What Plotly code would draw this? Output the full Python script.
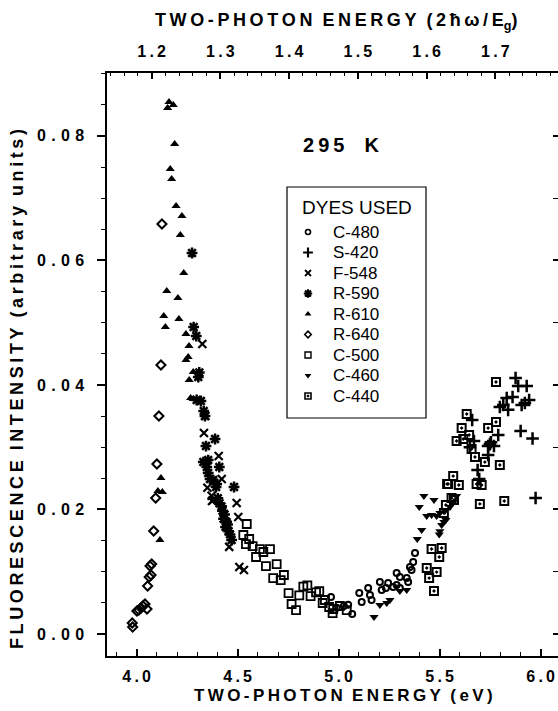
import plotly.graph_objects as go

# ---------------- data ----------------
c480_e = [4.962, 5.067, 5.102, 5.146, 5.114, 5.155, 5.163, 5.204, 5.213, 5.234, 5.245, 5.270,
          5.303, 5.287, 5.287, 5.303, 5.337, 5.344, 5.353, 5.369, 5.361, 5.378, 5.026, 5.047, 4.990]
c480_i = [0.00594, 0.00321, 0.00658, 0.00739, 0.00514, 0.00626, 0.00546, 0.00835, 0.00707, 0.00739,
          0.00819, 0.00755, 0.00739, 0.00787, 0.0098, 0.00915, 0.00899, 0.00835, 0.01076, 0.01156,
          0.01028, 0.01301, 0.0045, 0.0047, 0.0042]

s420_e = [5.876, 5.889, 5.931, 5.832, 5.861, 5.798, 5.815, 5.839, 5.906, 5.922, 5.943, 5.901,
          5.960, 5.790, 5.754, 5.740, 5.769, 5.740, 5.661, 5.670, 5.650, 5.688, 5.696, 5.975, 5.749]
s420_i = [0.04111, 0.03983, 0.03983, 0.0379, 0.03806, 0.03646, 0.03678, 0.0360, 0.03678, 0.0371,
          0.03758, 0.0326, 0.0314, 0.03196, 0.0308, 0.03019, 0.03019, 0.02875, 0.03437, 0.031,
          0.030, 0.02634, 0.02489, 0.02184, 0.0305]

f548_e = [4.325, 4.340, 4.333, 4.406, 4.421, 4.371, 4.379, 4.495, 4.503, 4.373, 4.458, 4.508,
          4.531, 4.350]
f548_i = [0.04657, 0.03501, 0.03228, 0.02859, 0.02489, 0.0222, 0.02152, 0.02104, 0.01879, 0.02136,
          0.0140, 0.01076, 0.01028, 0.0235]

r590_e = [4.274, 4.282, 4.295, 4.305, 4.310, 4.297, 4.318, 4.332, 4.338, 4.388, 4.343, 4.330,
          4.354, 4.347, 4.409, 4.354, 4.363, 4.379, 4.393, 4.396, 4.482, 4.402, 4.410, 4.420,
          4.425, 4.435, 4.430, 4.445, 4.440, 4.450, 4.455, 4.470, 4.462]
r590_i = [0.06119, 0.0493, 0.04786, 0.04127, 0.0420, 0.03758, 0.03742, 0.03581, 0.03501, 0.03132,
          0.03019, 0.02762, 0.02794, 0.02682, 0.02682, 0.02586, 0.02489, 0.02473, 0.02361, 0.02409,
          0.02361, 0.0218, 0.0210, 0.0205, 0.0198, 0.0192, 0.0185, 0.0180, 0.0172, 0.0176, 0.0165,
          0.0151, 0.0160]

r610_e = [4.160, 4.181, 4.153, 4.188, 4.166, 4.173, 4.195, 4.224, 4.216, 4.233, 4.149, 4.204,
          4.134, 4.209, 4.142, 4.244, 4.259, 4.255, 4.244, 4.280, 4.260, 4.267, 4.280, 4.120,
          4.105, 4.127, 4.115]
r610_i = [0.08544, 0.08496, 0.08448, 0.0787, 0.07468, 0.07307, 0.06874, 0.06713, 0.06408, 0.05798,
          0.05509, 0.05396, 0.05107, 0.05059, 0.0493, 0.04818, 0.04625, 0.04449, 0.0440, 0.04208,
          0.04079, 0.0379, 0.03774, 0.02505, 0.02297, 0.0228, 0.0151]

r640_e = [4.125, 4.120, 4.110, 4.100, 4.094, 4.084, 4.074, 4.066, 4.071, 4.062, 4.054, 4.041,
          4.031, 4.021, 4.011, 4.001, 4.051, 3.978, 3.980]
r640_i = [0.06585, 0.0432, 0.03501, 0.0273, 0.02184, 0.01654, 0.01124, 0.01092, 0.00948, 0.00915,
          0.00771, 0.00482, 0.0045, 0.00418, 0.00385, 0.00369, 0.00402, 0.00177, 0.00112]

c500_e = [4.545, 4.528, 4.557, 4.541, 4.574, 4.610, 4.627, 4.660, 4.591, 4.640, 4.693, 4.676,
          4.713, 4.729, 4.752, 4.767, 4.789, 4.805, 4.825, 4.845, 4.861, 4.888, 4.904, 4.921,
          4.932, 4.953, 4.973, 4.970, 5.006, 5.040]
c500_i = [0.01767, 0.0159, 0.01526, 0.01445, 0.01413, 0.01365, 0.01317, 0.01365, 0.01237, 0.01092,
          0.01124, 0.00899, 0.00867, 0.00948, 0.00658, 0.00482, 0.00385, 0.0062, 0.0076, 0.0078,
          0.0061, 0.0067, 0.0069, 0.00498, 0.00546, 0.00434, 0.00402, 0.00337, 0.0045, 0.00385]

c460_e = [5.175, 5.204, 5.238, 5.254, 5.303, 5.337, 5.389, 5.411, 5.422, 5.472, 5.399, 5.436,
          5.460, 5.485, 5.501, 5.526, 5.551, 5.567, 5.584, 5.501, 5.510, 5.521, 5.531, 5.498]
c460_i = [0.00273, 0.00466, 0.00498, 0.00546, 0.00691, 0.00707, 0.01526, 0.0167, 0.02216, 0.02152,
          0.0204, 0.01895, 0.01911, 0.01895, 0.01943, 0.01975, 0.0204, 0.0212, 0.02216, 0.0165,
          0.0175, 0.0180, 0.0183, 0.0160]

c440_e = [5.537, 5.531, 5.521, 5.460, 5.510, 5.498, 5.436, 5.485, 5.448, 5.472, 5.779, 5.634,
          5.609, 5.584, 5.617, 5.646, 5.658, 5.675, 5.740, 5.779, 5.724, 5.798, 5.567, 5.542,
          5.595, 5.683, 5.708, 5.559, 5.571, 5.699, 5.820]
c440_i = [0.02409, 0.02072, 0.01943, 0.01365, 0.01381, 0.01237, 0.0106, 0.00995, 0.00899, 0.00691,
          0.04047, 0.03533, 0.03308, 0.031, 0.03132, 0.03196, 0.02971, 0.02843, 0.03308, 0.03405,
          0.02762, 0.02714, 0.02537, 0.02409, 0.02393, 0.02409, 0.02393, 0.02184, 0.02152, 0.0209,
          0.02136]

dye_names = ["C-480", "S-420", "F-548", "R-590", "R-610", "R-640", "C-500", "C-460", "C-440"]
dye_e = [c480_e, s420_e, f548_e, r590_e, r610_e, r640_e, c500_e, c460_e, c440_e]
dye_i = [c480_i, s420_i, f548_i, r590_i, r610_i, r640_i, c500_i, c460_i, c440_i]

x_ticks = [4.0, 4.5, 5.0, 5.5, 6.0]
y_ticks = [0.00, 0.02, 0.04, 0.06, 0.08]
top_ticks = [1.2, 1.3, 1.4, 1.5, 1.6, 1.7]

# ---------------- styles ----------------
styles = {
    "C-480": ("circle-open", 6, 2.0),
    "S-420": ("cross-thin-open", 9, 2.5),
    "F-548": ("x-thin-open", 8, 2.2),
    "R-590": ("asterisk-open", 9, 2.5),
    "R-610": ("triangle-up", 8, 0),
    "R-640": ("diamond-open", 7, 2.0),
    "C-500": ("square-open", 8, 1.8),
    "C-460": ("triangle-down", 8, 0),
    "C-440": ("square-open-dot", 8, 2.0),
}
legend_sizes = {"C-480": 5, "S-420": 7, "F-548": 6, "R-590": 7, "R-610": 6,
                "R-640": 5, "C-500": 6, "C-460": 6, "C-440": 6}

FONT = "Liberation Sans"
TS = "\u2009"   # thin space (letter spacing)
YS = "\u2004"   # three-per-em space
WS = "\u00a0\u00a0"

W, H = 558, 711
ML, MR, MT, MB = 107, 0, 73, 55
PW, PH = W - ML - MR, H - MT - MB


def spaced(s, sep):
    return sep.join(list(s))


def px_x(px):
    return (px - ML) / PW


def px_y(py):
    return (H - MB - py) / PH


fig = go.Figure()
for name, xe, yi in zip(dye_names, dye_e, dye_i):
    sym, size, lw = styles[name]
    fig.add_trace(go.Scatter(
        x=xe, y=yi, mode="markers", name=name, showlegend=False,
        marker=dict(symbol=sym, size=size, color="black",
                    line=dict(width=lw, color="black")),
    ))

# invisible traces to activate top / right axes
fig.add_trace(go.Scatter(x=[1.5], y=[0.0], xaxis="x2", yaxis="y", mode="markers",
                         marker=dict(opacity=0), showlegend=False, hoverinfo="skip"))
fig.add_trace(go.Scatter(x=[5.0], y=[0.0], xaxis="x", yaxis="y2", mode="markers",
                         marker=dict(opacity=0), showlegend=False, hoverinfo="skip"))

# ---------------- hand-made legend ----------------
LEG_L, LEG_R, LEG_T, LEG_B = 287, 426, 187, 418
LEG_Y0, LEG_DY, LEG_MX, LEG_TX = 232, 20.5, 308, 331
fig.add_shape(type="rect", xref="paper", yref="paper",
              x0=px_x(LEG_L), x1=px_x(LEG_R), y0=px_y(LEG_B), y1=px_y(LEG_T),
              line=dict(color="black", width=1.2), fillcolor="white", layer="below")
fig.add_annotation(text="DYES USED", xref="paper", yref="paper",
                   x=px_x((LEG_L + LEG_R) / 2), y=px_y(207), xanchor="center", yanchor="middle",
                   showarrow=False, font=dict(family=FONT, size=19, color="black"))
for k, name in enumerate(dye_names):
    sym, size, lw = styles[name]
    yy = LEG_Y0 + LEG_DY * k
    fig.add_trace(go.Scatter(
        x=[px_x(LEG_MX)], y=[px_y(yy)], xaxis="x3", yaxis="y3", mode="markers",
        showlegend=False, hoverinfo="skip",
        marker=dict(symbol=sym, size=legend_sizes[name], color="black",
                    line=dict(width=max(lw - 0.4, 0), color="black")),
    ))
    fig.add_annotation(text=name, xref="paper", yref="paper", x=px_x(LEG_TX), y=px_y(yy),
                       xanchor="left", yanchor="middle", showarrow=False,
                       font=dict(family=FONT, size=17, color="black"))

tickfont = dict(family=FONT, size=16, color="black", weight="bold")

fig.update_layout(
    width=W, height=H,
    margin=dict(l=ML, r=MR, t=MT, b=MB),
    paper_bgcolor="white", plot_bgcolor="rgba(0,0,0,0)",
    showlegend=False,
    xaxis=dict(
        range=[3.853, 6.086], showgrid=False, zeroline=False, automargin=False,
        showline=True, linecolor="black", linewidth=1.5,
        ticks="inside", ticklen=7, tickwidth=1.5, tickcolor="black",
        tickvals=x_ticks, ticktext=[spaced(f"{v:.1f}", TS) for v in x_ticks],
        tickfont=tickfont, ticklabelstandoff=5,
        minor=dict(dtick=0.1, ticks="inside", ticklen=4, tickwidth=1.2, tickcolor="black", showgrid=False),
    ),
    xaxis2=dict(
        overlaying="x", side="top", range=[1.135, 1.791], showgrid=False, zeroline=False,
        automargin=False,
        showline=True, linecolor="black", linewidth=1.5,
        ticks="inside", ticklen=6, tickwidth=1.5, tickcolor="black",
        tickvals=top_ticks, ticktext=[spaced(f"{v:.1f}", TS) for v in top_ticks],
        tickfont=tickfont, ticklabelstandoff=8,
        minor=dict(dtick=0.02, tick0=1.2, ticks="inside", ticklen=3, tickwidth=1.2, tickcolor="black", showgrid=False),
    ),
    yaxis=dict(
        range=[-0.00353, 0.0901], showgrid=False, zeroline=False, automargin=False,
        showline=True, linecolor="black", linewidth=1.5,
        ticks="outside", ticklen=8, tickwidth=1.5, tickcolor="black",
        tickvals=y_ticks, ticktext=[spaced(f"{v:.2f}", YS) for v in y_ticks],
        tickfont=tickfont, ticklabelstandoff=10,
        minor=dict(dtick=0.005, ticks="outside", ticklen=4, tickwidth=1.2, tickcolor="black", showgrid=False),
    ),
    yaxis2=dict(
        overlaying="y", side="right", range=[-0.00353, 0.0901], showgrid=False, zeroline=False,
        automargin=False,
        showline=True, linecolor="black", linewidth=1.5,
        ticks="inside", ticklen=5, tickwidth=1.5, tickcolor="black",
        tickvals=y_ticks, showticklabels=False,
        minor=dict(dtick=0.01, ticks="inside", ticklen=5, tickwidth=1.2, tickcolor="black", showgrid=False),
    ),
    xaxis3=dict(domain=[0, 1], range=[0, 1], anchor="y3", visible=False, automargin=False),
    yaxis3=dict(domain=[0, 1], range=[0, 1], anchor="x3", visible=False, automargin=False),
)

title_font = dict(family=FONT, size=17, color="black", weight="bold")
fig.add_annotation(text=spaced("TWO-PHOTON", TS) + WS + spaced("ENERGY", TS) + WS + spaced("(eV)", TS),
                   xref="paper", yref="paper", x=px_x(343), y=px_y(695),
                   xanchor="center", yanchor="middle", showarrow=False, font=title_font)
fig.add_annotation(text=spaced("TWO-PHOTON", TS) + WS + spaced("ENERGY", TS) + WS
                   + spaced("(2\u0127\u03c9/E", TS) + "<sub>g</sub>)",
                   xref="paper", yref="paper", x=px_x(336), y=px_y(22),
                   xanchor="center", yanchor="middle", showarrow=False,
                   font=dict(family=FONT, size=18, color="black", weight="bold"))
fig.add_annotation(text=spaced("FLUORESCENCE", TS) + WS + spaced("INTENSITY", TS) + WS
                   + spaced("(arbitrary", TS) + WS + spaced("units)", TS),
                   xref="paper", yref="paper", x=px_x(17), y=px_y(389), textangle=-90,
                   xanchor="center", yanchor="middle", showarrow=False,
                   font=dict(family=FONT, size=18, color="black", weight="bold"))
fig.add_annotation(text=spaced("295", TS) + "\u2002\u2002K",
                   xref="paper", yref="paper", x=px_x(341), y=px_y(145),
                   xanchor="center", yanchor="middle", showarrow=False,
                   font=dict(family=FONT, size=20, color="black", weight="bold"))

fig.write_html("out.html", config={"displayModeBar": False},
               post_script="document.body.style.margin='0px';")
